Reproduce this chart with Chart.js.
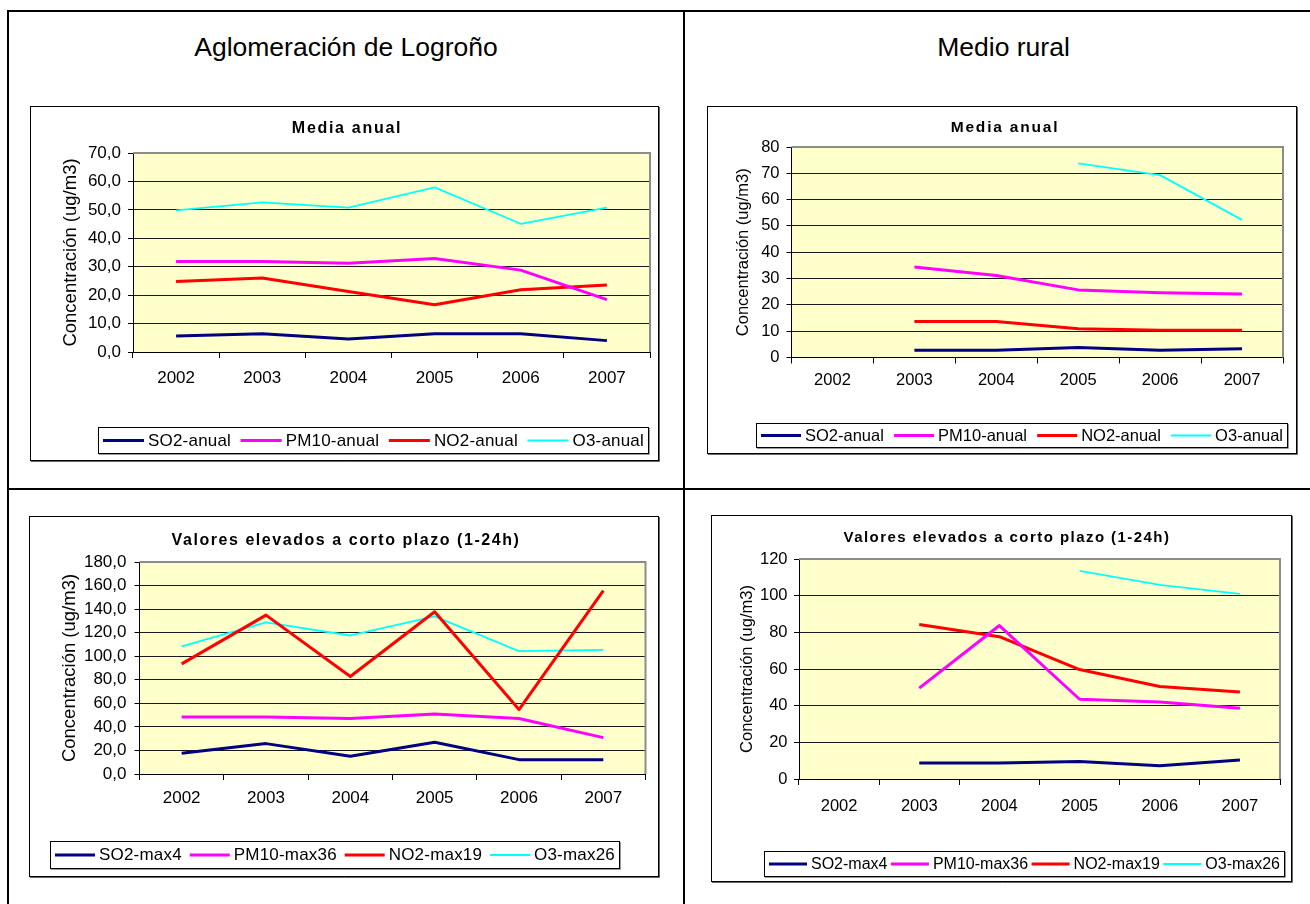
<!DOCTYPE html>
<html><head><meta charset="utf-8">
<script src="https://cdn.jsdelivr.net/npm/chart.js@4.4.1/dist/chart.umd.min.js"></script>
<style>
html,body{margin:0;padding:0;background:#fff;width:1310px;height:904px;overflow:hidden;position:relative;font-family:"Liberation Sans",Arial,sans-serif;}
.ln{position:absolute;background:#000;}
.hdr{position:absolute;font-size:26.5px;line-height:26px;text-align:center;color:#000;white-space:nowrap;}
canvas{position:absolute;}
</style></head><body>
<div class="ln" style="left:7px;top:10px;width:1303px;height:2px"></div>
<div class="ln" style="left:7px;top:10px;width:2px;height:894px"></div>
<div class="ln" style="left:683px;top:10px;width:2px;height:894px"></div>
<div class="ln" style="left:7px;top:488px;width:1303px;height:2px"></div>
<div class="hdr" style="left:9px;top:34px;width:674px">Aglomeración de Logroño</div>
<div class="hdr" style="left:685px;top:34px;width:637px">Medio rural</div>
<canvas id="c1"></canvas>
<canvas id="c2"></canvas>
<canvas id="c3"></canvas>
<canvas id="c4"></canvas>
<script>
// ---- data ----
const years = ['2002', '2003', '2004', '2005', '2006', '2007'];

// Aglomeración de Logroño - Media anual
const aglAnualSO2  = [5.6, 6.4, 4.6, 6.4, 6.4, 4.0];
const aglAnualPM10 = [31.8, 31.8, 31.2, 32.9, 28.8, 18.4];
const aglAnualNO2  = [24.8, 26.0, 21.3, 16.6, 21.9, 23.6];
const aglAnualO3   = [49.8, 52.6, 50.8, 57.9, 45.1, 50.8];

// Medio rural - Media anual
const rurAnualSO2  = [null, 2.8, 2.8, 3.8, 2.8, 3.3];
const rurAnualPM10 = [null, 34.4, 31.2, 25.7, 24.6, 24.1];
const rurAnualNO2  = [null, 13.7, 13.7, 10.9, 10.4, 10.4];
const rurAnualO3   = [null, null, null, 73.8, 69.3, 52.3];

// Aglomeración de Logroño - Valores elevados a corto plazo
const aglMaxSO2  = [17.6, 25.8, 15.0, 26.9, 12.2, 12.2];
const aglMaxPM10 = [48.5, 48.5, 47.1, 51.0, 47.1, 30.9];
const aglMaxNO2  = [93.5, 134.9, 82.8, 137.8, 54.7, 155.6];
const aglMaxO3   = [108.3, 128.7, 117.6, 133.8, 104.3, 105.4];

// Medio rural - Valores elevados a corto plazo
const rurMaxSO2  = [null, 8.7, 8.7, 9.6, 7.2, 10.3];
const rurMaxPM10 = [null, 49.6, 83.7, 43.5, 42.0, 38.6];
const rurMaxNO2  = [null, 84.3, 77.6, 59.7, 50.5, 47.5];
const rurMaxO3   = [null, null, null, 113.5, 105.9, 101.0];

const seriesAnual = ['SO2-anual', 'PM10-anual', 'NO2-anual', 'O3-anual'];
const seriesMax   = ['SO2-max4', 'PM10-max36', 'NO2-max19', 'O3-max26'];
const titleAnual = 'Media anual';
const titleMax   = 'Valores elevados a corto plazo (1-24h)';
const yTitle = 'Concentración (ug/m3)';
// y axis ranges: [min, max, step]
const aglAnualRange = [0, 70, 10];
const rurAnualRange = [0, 80, 10];
const aglMaxRange   = [0, 180, 20];
const rurMaxRange   = [0, 120, 20];

// ---- styles ----
const COLORS = ['#000080', '#FF00FF', '#FF0000', '#00FFFF'];
const WIDTHS = [3, 3, 3, 1.8];
const FONT = '"Liberation Sans", Arial, sans-serif';
Chart.defaults.font.family = FONT;
Chart.defaults.color = '#000';

const decor = {
  id: 'decor',
  beforeDraw(chart, args, o) {
    const {ctx, chartArea: a} = chart;
    ctx.save();
    ctx.fillStyle = '#fff';
    ctx.fillRect(0, 0, chart.width, chart.height);
    ctx.fillStyle = '#FFFFCC';
    ctx.fillRect(a.left, a.top, a.right - a.left, a.bottom - a.top);
    ctx.restore();
  },
  afterDraw(chart, args, o) {
    const {ctx, chartArea: a} = chart;
    const W = chart.width, H = chart.height;
    ctx.save();
    // plot border (top/right)
    ctx.strokeStyle = '#8c8c8c';
    ctx.lineWidth = 2;
    ctx.beginPath();
    ctx.moveTo(a.left, a.top);
    ctx.lineTo(a.right, a.top);
    ctx.lineTo(a.right, a.bottom);
    ctx.stroke();
    // chart box border
    ctx.strokeStyle = '#000';
    ctx.lineWidth = 1;
    ctx.strokeRect(0.5, 0.5, W - 2, H - 2);
    ctx.strokeStyle = '#666';
    ctx.beginPath();
    ctx.moveTo(W - 0.5, 1); ctx.lineTo(W - 0.5, H - 0.5); ctx.lineTo(1, H - 0.5);
    ctx.stroke();
    // title
    ctx.fillStyle = '#000';
    ctx.font = 'bold ' + o.titleSize + 'px ' + FONT;
    ctx.letterSpacing = o.titleSpacing + 'px';
    ctx.textAlign = 'center';
    ctx.textBaseline = 'middle';
    ctx.fillText(o.title, o.titleX, o.titleY);
    // legend
    const L = o.legend;
    ctx.font = L.size + 'px ' + FONT;
    ctx.letterSpacing = L.spacing + 'px';
    const ds = chart.data.datasets;
    const tw = ds.map(d => ctx.measureText(d.label).width);
    const sum = tw.reduce((s, v) => s + v, 0);
    const pad = 5, g1 = 4;
    const gap = (L.w - 2 * pad - ds.length * (L.sample + g1) - sum) / (ds.length - 1);
    ctx.strokeStyle = '#000';
    ctx.lineWidth = 1;
    ctx.strokeRect(L.x + 0.5, L.y + 0.5, L.w - 1, L.h - 1);
    ctx.strokeStyle = '#999';
    ctx.beginPath();
    ctx.moveTo(L.x + L.w + 0.5, L.y + 1); ctx.lineTo(L.x + L.w + 0.5, L.y + L.h + 0.5); ctx.lineTo(L.x + 1, L.y + L.h + 0.5);
    ctx.stroke();
    let x = L.x + pad;
    const cy = L.y + L.h / 2;
    ctx.textAlign = 'left';
    ds.forEach((d, i) => {
      ctx.strokeStyle = d.borderColor;
      ctx.lineWidth = d.borderWidth;
      ctx.beginPath();
      ctx.moveTo(x, cy); ctx.lineTo(x + L.sample, cy);
      ctx.stroke();
      x += L.sample + g1;
      ctx.fillStyle = '#000';
      ctx.fillText(d.label, x, cy + 0.5);
      x += tw[i] + gap;
    });
    ctx.letterSpacing = '0px';
    ctx.restore();
  }
};

function makeChart(id, c) {
  const cv = document.getElementById(id);
  cv.width = c.box.w; cv.height = c.box.h;
  cv.style.left = c.box.x + 'px'; cv.style.top = c.box.y + 'px';
  cv.style.width = c.box.w + 'px'; cv.style.height = c.box.h + 'px';
  const padTop = c.plot.t - c.box.y;
  const padRight = c.box.x + c.box.w - c.plot.r;
  const yW = c.plot.l - c.box.x;
  const xH = c.box.y + c.box.h - c.plot.b;
  const yTitleLH = c.yTitleSize * 1.2;
  const tickLH = c.tickSize * 1.2;
  const [mn, mx, st] = c.range;
  new Chart(cv, {
    type: 'line',
    data: {
      labels: years,
      datasets: c.series.map((arr, i) => ({
        label: c.names[i], data: arr,
        borderColor: COLORS[i], backgroundColor: COLORS[i], borderWidth: WIDTHS[i],
        pointRadius: 0, pointHoverRadius: 0, tension: 0, fill: false,
        borderJoinStyle: 'round', borderCapStyle: 'butt'
      }))
    },
    options: {
      responsive: false, animation: false, devicePixelRatio: 1,
      layout: {padding: {left: 0, top: padTop, right: padRight, bottom: 0}},
      plugins: {
        legend: {display: false}, title: {display: false}, tooltip: {enabled: false},
        decor: {
          title: c.title, titleSize: c.titleSize, titleSpacing: c.titleSpacing,
          titleX: c.titleX - c.box.x, titleY: c.titleY - c.box.y,
          legend: {x: c.legend.x - c.box.x, y: c.legend.y - c.box.y, w: c.legend.r - c.legend.x,
                   h: c.legend.h, size: c.legend.size, spacing: c.legend.spacing, sample: c.legend.sample}
        }
      },
      scales: {
        x: {
          offset: true,
          grid: {offset: true, drawOnChartArea: false, color: '#000', tickLength: 6, lineWidth: 1},
          border: {color: '#000', width: 1},
          ticks: {font: {size: c.tickSize}, color: '#000', maxRotation: 0, autoSkip: false,
                  padding: (c.xLabelY - c.plot.b) - 6 - tickLH / 2},
          afterFit(s) { s.height = xH; }
        },
        y: {
          min: mn, max: mx,
          grid: {
            color: (ctx) => (ctx.tick && ctx.tick.value === mx) ? 'rgba(0,0,0,0)' : '#1a1a1a',
            tickColor: '#000', tickLength: 5, lineWidth: 1
          },
          border: {color: '#000', width: 1},
          ticks: {
            stepSize: st, font: {size: c.tickSize}, color: '#000',
            padding: (c.plot.l - 5) - c.yLabelRight,
            callback: (v) => c.decimals ? v.toFixed(1).replace('.', ',') : String(v)
          },
          title: {display: true, text: yTitle, color: '#000', font: {size: c.yTitleSize},
                  padding: {top: (c.yTitleX - c.box.x) - yTitleLH / 2, bottom: 0}},
          afterFit(s) { s.width = yW; }
        }
      }
    },
    plugins: [decor]
  });
}

makeChart('c1', {
  box: {x: 30, y: 106, w: 630, h: 356},
  plot: {l: 133, t: 153, r: 650, b: 352},
  range: aglAnualRange, decimals: true,
  series: [aglAnualSO2, aglAnualPM10, aglAnualNO2, aglAnualO3], names: seriesAnual,
  title: titleAnual, titleSize: 16, titleSpacing: 1.7, titleX: 347, titleY: 129,
  tickSize: 17, yLabelRight: 121, xLabelY: 378,
  yTitleSize: 18.5, yTitleX: 70.5,
  legend: {x: 98, y: 427, r: 649, h: 27, size: 17, spacing: 0.2, sample: 41}
});
makeChart('c2', {
  box: {x: 707, y: 106, w: 591, h: 349},
  plot: {l: 791.5, t: 147, r: 1283, b: 357.5},
  range: rurAnualRange, decimals: false,
  series: [rurAnualSO2, rurAnualPM10, rurAnualNO2, rurAnualO3], names: seriesAnual,
  title: titleAnual, titleSize: 15.5, titleSpacing: 1.8, titleX: 1005, titleY: 128,
  tickSize: 16.5, yLabelRight: 779.5, xLabelY: 380,
  yTitleSize: 16.5, yTitleX: 743,
  legend: {x: 756, y: 423, r: 1288, h: 25, size: 16.5, spacing: 0, sample: 40}
});
makeChart('c3', {
  box: {x: 29, y: 516, w: 631, h: 362},
  plot: {l: 139.5, t: 562, r: 645.5, b: 774},
  range: aglMaxRange, decimals: true,
  series: [aglMaxSO2, aglMaxPM10, aglMaxNO2, aglMaxO3], names: seriesMax,
  title: titleMax, titleSize: 16, titleSpacing: 1.55, titleX: 346, titleY: 541,
  tickSize: 17, yLabelRight: 126.5, xLabelY: 798.5,
  yTitleSize: 18.5, yTitleX: 70,
  legend: {x: 50, y: 841, r: 620, h: 28, size: 17, spacing: 0.2, sample: 40}
});
makeChart('c4', {
  box: {x: 711, y: 515, w: 582, h: 368},
  plot: {l: 799, t: 559, r: 1280, b: 779},
  range: rurMaxRange, decimals: false,
  series: [rurMaxSO2, rurMaxPM10, rurMaxNO2, rurMaxO3], names: seriesMax,
  title: titleMax, titleSize: 15, titleSpacing: 1.45, titleX: 1007, titleY: 538,
  tickSize: 16.5, yLabelRight: 787.5, xLabelY: 806,
  yTitleSize: 16.5, yTitleX: 747.5,
  legend: {x: 764, y: 851, r: 1285, h: 26, size: 16, spacing: 0, sample: 38}
});
</script>
</body></html>
